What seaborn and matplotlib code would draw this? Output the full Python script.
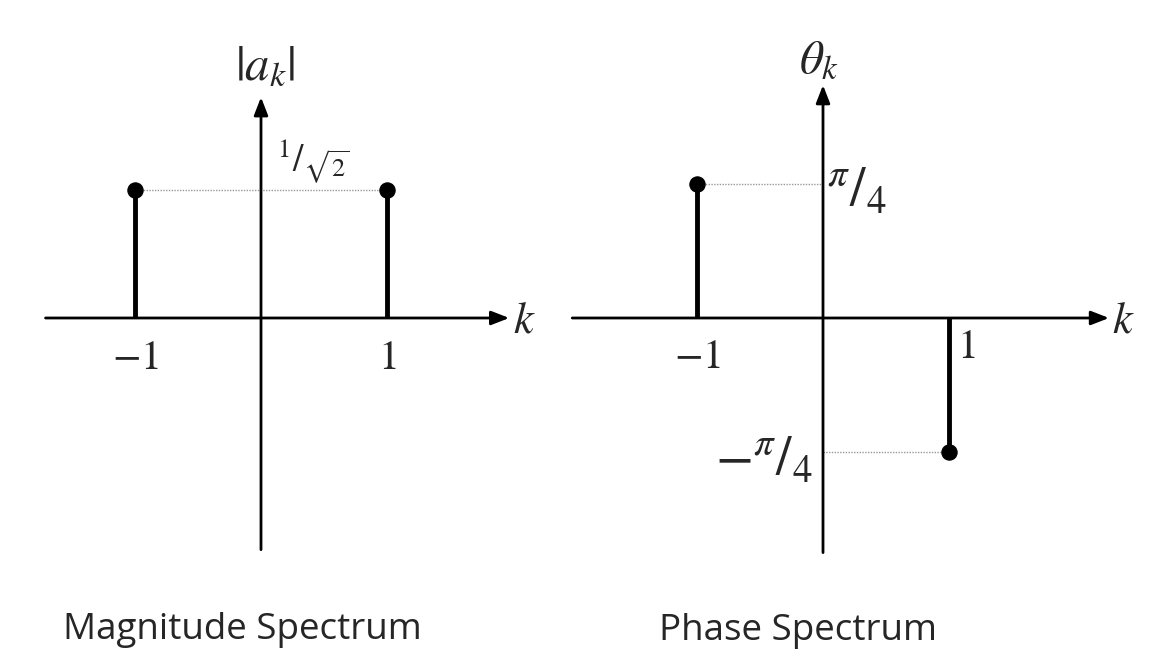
import numpy as np
import pandas as pd
import matplotlib
matplotlib.use("Agg")
import matplotlib.pyplot as plt
import seaborn as sns

# spectrum values
k = [-1, 1]
magnitude = [0.7071, 0.7071]
phase = [0.7854, -0.7854]
k_labels = [r"$-1$", r"$1$"]
mag_label = r"${}^{1}/_{\sqrt{2}}$"
phase_labels = [r"${}^{\pi}/_{4}$", r"$-{}^{\pi}/_{4}$"]
titles = ["Magnitude Spectrum", "Phase Spectrum"]

sns.set_theme(style="white")
plt.rcParams["mathtext.fontset"] = "stix"
plt.rcParams["font.family"] = ["Open Sans", "DejaVu Sans"]

W, H = 1156, 655
fig = plt.figure(figsize=(W / 100, H / 100), dpi=100)
fig.patch.set_facecolor("white")


def make_axes(px0, px1, ox, oy, ux, uy):
    # axes spanning pixel columns px0..px1, origin at (ox, oy) px, ux/uy px per unit
    ax = fig.add_axes([px0 / W, 0, (px1 - px0) / W, 1])
    ax.set_xlim((px0 - ox) / ux, (px1 - ox) / ux)
    ax.set_ylim((oy - H) / uy, oy / uy)
    ax.axis("off")
    return ax


def arrow_axes(ax, x0, x1, y0, y1):
    style = dict(arrowstyle="-|>,head_length=0.9,head_width=0.35", color="black", lw=2,
                 shrinkA=0, shrinkB=0)
    ax.annotate("", xy=(x1, 0), xytext=(x0, 0), arrowprops=style)
    ax.annotate("", xy=(0, y1), xytext=(0, y0), arrowprops=style)


def stems(ax, vals):
    df = pd.DataFrame({"k": k, "v": vals})
    ax.vlines(df["k"], 0, df["v"], color="black", lw=3.5, zorder=3)
    sns.scatterplot(data=df, x="k", y="v", ax=ax, color="black", s=120,
                    edgecolor="black", zorder=4, legend=False)


# ---- magnitude ----
ax1 = make_axes(0, 578, 261, 318, 126, 181)
arrow_axes(ax1, -1.71, 1.97, -1.28, 1.22)
ax1.plot([k[0], k[1]], [magnitude[0], magnitude[1]], color="#999999", lw=1,
         ls=(0, (1, 1)), zorder=1)
stems(ax1, magnitude)
for kk, lab in zip(k, k_labels):
    ax1.text(kk, -0.22, lab, ha="center", va="center", fontsize=30)
ax1.text(2.0, -0.02, r"$k$", ha="left", va="center", fontsize=32)
ax1.text(0.13, 0.86, mag_label, ha="left", va="center", fontsize=27)
ax1.text(0.03, 1.39, r"$|a_k|$", ha="center", va="center", fontsize=35)
ax1.text(-0.15, -1.725, titles[0], ha="center", va="center", fontsize=26.5)

# ---- phase ----
ax2 = make_axes(578, W, 823, 318, 126, 170)
arrow_axes(ax2, -1.99, 2.27, -1.38, 1.37)
ax2.plot([k[0], 0], [phase[0], phase[0]], color="#999999", lw=1, ls=(0, (1, 1)), zorder=1)
ax2.plot([0, k[1]], [phase[1], phase[1]], color="#999999", lw=1, ls=(0, (1, 1)), zorder=1)
stems(ax2, phase)
ax2.text(k[0], -0.23, k_labels[0], ha="center", va="center", fontsize=30)
ax2.text(k[1] + 0.06, -0.17, k_labels[1], ha="left", va="center", fontsize=30)
ax2.text(2.29, -0.02, r"$k$", ha="left", va="center", fontsize=32)
ax2.text(0.03, 0.74, phase_labels[0], ha="left", va="center", fontsize=40)
ax2.text(-0.08, -0.84, phase_labels[1], ha="right", va="center", fontsize=40)
ax2.text(-0.03, 1.52, r"$\theta_k$", ha="center", va="center", fontsize=34)
ax2.text(-0.2, -1.84, titles[1], ha="center", va="center", fontsize=26.5)

fig.savefig("out.png", dpi=100, facecolor="white")
plt.close(fig)
